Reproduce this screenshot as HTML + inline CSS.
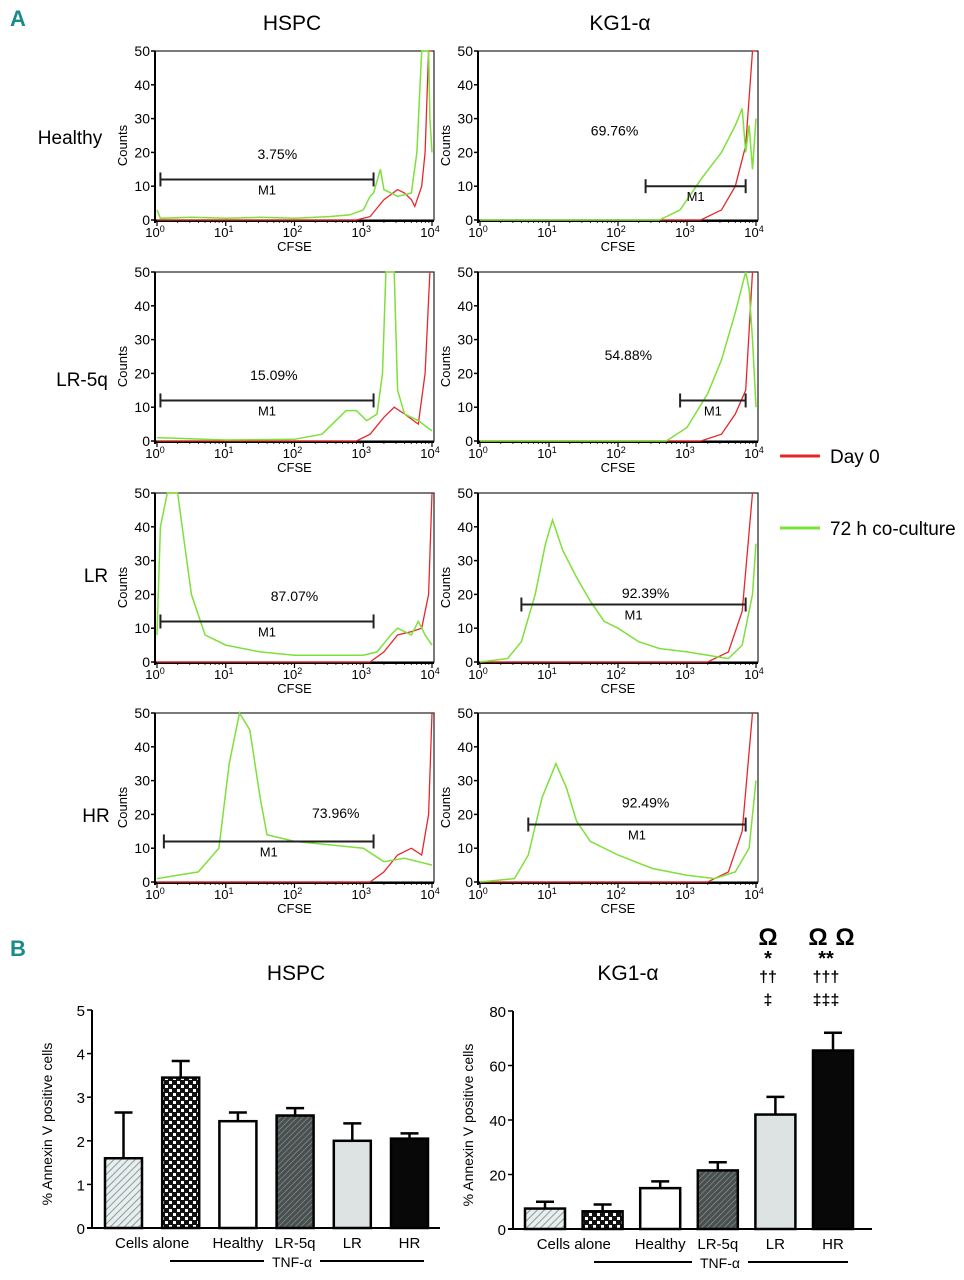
<!DOCTYPE html>
<html><head><meta charset="utf-8">
<style>
html,body{margin:0;padding:0;background:#fff;}
svg{display:block;font-family:"Liberation Sans Narrow","Liberation Sans",sans-serif;}
</style></head>
<body>
<svg id="fig" width="964" height="1280" viewBox="0 0 964 1280" xmlns="http://www.w3.org/2000/svg">
<defs>
<pattern id="hatchLight" width="5" height="5" patternUnits="userSpaceOnUse" patternTransform="rotate(45)"><rect width="5" height="5" fill="#e8eeee"/><line x1="0" y1="0" x2="0" y2="5" stroke="#8a9a9a" stroke-width="2"/></pattern>
<pattern id="hatchDark" width="4" height="4" patternUnits="userSpaceOnUse" patternTransform="rotate(45)"><rect width="4" height="4" fill="#4a5050"/><line x1="0" y1="0" x2="0" y2="4" stroke="#9aa" stroke-width="1"/></pattern>
<pattern id="checker" width="8" height="8" patternUnits="userSpaceOnUse"><rect width="8" height="8" fill="#111"/><rect x="1" y="1" width="3" height="3" fill="#fff"/><rect x="5" y="5" width="3" height="3" fill="#fff"/></pattern>
</defs>
<text x="10" y="26" font-size="22" font-weight="bold" fill="#1a8a8a">A</text>
<text x="10" y="956" font-size="22" font-weight="bold" fill="#1a8a8a">B</text>
<text x="292" y="30" font-size="21" text-anchor="middle">HSPC</text>
<text x="620" y="30" font-size="21" text-anchor="middle">KG1-α</text>
<text x="70" y="144" font-size="19" text-anchor="middle">Healthy</text>
<text x="82" y="386" font-size="19" text-anchor="middle">LR-5q</text>
<text x="96" y="582" font-size="19" text-anchor="middle">LR</text>
<text x="96" y="822" font-size="19" text-anchor="middle">HR</text>
<line x1="780" y1="456" x2="820" y2="456" stroke="#e8262a" stroke-width="3"/>
<text x="830" y="463" font-size="19">Day 0</text>
<line x1="780" y1="528" x2="820" y2="528" stroke="#7ee03a" stroke-width="3"/>
<text x="830" y="535" font-size="19">72 h co-culture</text>
<g id="hist"></g>
<g id="bars"></g>
</svg>
<script>
const NS="http://www.w3.org/2000/svg";
const yTicks=[0,10,20,30,40,50];
const xDecades=[0,1,2,3,4];
// histogram curves: [log10 CFSE, counts]
const hspcHealthyGreen=[[0,3],[0.05,0.5],[0.5,0.8],[1,0.5],[1.5,0.8],[2,0.5],[2.5,1],[2.8,1.5],[3,3],[3.1,7],[3.15,8],[3.25,15],[3.3,9],[3.5,7],[3.7,8],[3.78,20],[3.85,50],[3.95,50],[3.97,30],[4,20]];
const hspcHealthyRed=[[0,0],[2.9,0],[3.1,1],[3.3,6],[3.5,9],[3.6,8],[3.7,6],[3.75,4],[3.85,10],[3.9,20],[3.95,50],[4,50]];
const hspcLr5qGreen=[[0,1],[1,0.3],[2,0.5],[2.4,2],[2.6,6],[2.75,9],[2.9,9],[3.05,6],[3.2,8],[3.28,20],[3.33,50],[3.45,50],[3.5,15],[3.6,8],[3.8,6],[4,3]];
const hspcLr5qRed=[[0,0],[2.9,0],[3.1,2],[3.3,7],[3.45,10],[3.6,8],[3.8,5],[3.9,20],[3.97,50]];
const hspcLrGreen=[[0,8],[0.05,40],[0.15,50],[0.3,50],[0.4,35],[0.5,20],[0.7,8],[1,5],[1.5,3],[2,2],[2.5,2],[3,2],[3.2,3],[3.4,8],[3.5,10],[3.7,8],[3.8,12],[3.9,8],[4,5]];
const hspcLrRed=[[0,0],[3.1,0],[3.3,3],[3.5,8],[3.7,9],[3.85,10],[3.95,20],[4,50]];
const hspcHrGreen=[[0,1],[0.3,2],[0.6,3],[0.9,10],[1.05,35],[1.2,50],[1.35,45],[1.5,25],[1.6,14],[2,12],[2.5,11],[3,10],[3.3,6],[3.6,7],[3.8,6],[4,5]];
const hspcHrRed=[[0,0],[3.1,0],[3.3,3],[3.5,8],[3.7,10],[3.85,8],[3.95,20],[4,50]];
const kgHealthyGreen=[[0,0],[2.6,0],[2.9,3],[3.2,12],[3.5,20],[3.7,28],[3.8,33],[3.85,20],[3.9,28],[3.95,15],[4,30]];
const kgHealthyRed=[[0,0],[3.2,0],[3.5,3],[3.7,10],[3.85,22],[3.95,50],[4,50]];
const kgLr5qGreen=[[0,0],[2.7,0],[3,4],[3.3,14],[3.5,24],[3.7,38],[3.85,50],[3.9,45],[3.95,30],[4,10]];
const kgLr5qRed=[[0,0],[3.2,0],[3.5,2],[3.7,8],[3.85,15],[3.95,50]];
const kgLrGreen=[[0,0],[0.4,1],[0.6,6],[0.8,20],[0.95,35],[1.05,42],[1.2,33],[1.4,25],[1.6,18],[1.8,12],[2,10],[2.3,6],[2.6,4],[3,3],[3.3,2],[3.6,1],[3.8,5],[3.95,20],[4,35]];
const kgLrRed=[[0,0],[3.3,0],[3.6,3],[3.8,15],[3.95,50]];
const kgHrGreen=[[0,0],[0.5,1],[0.7,8],[0.9,25],[1.1,35],[1.25,28],[1.4,18],[1.6,12],[2,8],[2.5,4],[3,2],[3.4,1],[3.7,3],[3.9,10],[4,30]];
const kgHrRed=[[0,0],[3.3,0],[3.6,3],[3.8,15],[3.95,50]];
// gates: [start, end, level], percent labels
const gateStarts=[0.05,2.4,0.05,2.9,0.05,0.6,0.1,0.7];
const gateEnds=[3.15,3.85,3.15,3.85,3.15,3.85,3.15,3.85];
const gateLevels=[12,10,12,12,12,17,12,17];
const gatePercents=["3.75%","69.76%","15.09%","54.88%","87.07%","92.39%","73.96%","92.49%"];
const pctX=[1.75,1.95,1.7,2.15,2.0,2.4,2.6,2.4];
const pctY=[18,25,18,24,18,19,19,22];
const greens=[hspcHealthyGreen,kgHealthyGreen,hspcLr5qGreen,kgLr5qGreen,hspcLrGreen,kgLrGreen,hspcHrGreen,kgHrGreen];
const reds=[hspcHealthyRed,kgHealthyRed,hspcLr5qRed,kgLr5qRed,hspcLrRed,kgLrRed,hspcHrRed,kgHrRed];
const names=["hspc-healthy","kg1-healthy","hspc-lr5q","kg1-lr5q","hspc-lr","kg1-lr","hspc-hr","kg1-hr"];

// bar charts
const barCats=["Cells alone","Cells alone TNF","Healthy","LR-5q","LR","HR"];
const hspcVals=[1.6,3.45,2.45,2.58,2.0,2.05];
const hspcErr=[2.65,3.83,2.65,2.75,2.4,2.17];
const kgVals=[7.5,6.5,15,21.5,42,65.5];
const kgErr=[10,9,17.5,24.5,48.5,72];
const hspcTicks=[0,1,2,3,4,5];
const kgTicks=[0,20,40,60,80];

function el(tag,attrs,parent,text){const e=document.createElementNS(NS,tag);for(const k in attrs)e.setAttribute(k,attrs[k]);if(text!==undefined)e.textContent=text;parent.appendChild(e);return e;}

const hist=document.getElementById('hist');
const colX=[157,480], colW=[275,276];
const rowTop=[51,272,493,713], rowH=169;
for(let i=0;i<8;i++){
  const c=i%2,r=Math.floor(i/2);
  const x0=colX[c],w=colW[c],top=rowTop[r],bot=top+rowH;
  const sx=v=>x0+v/4*w, sy=v=>bot-Math.min(v,50)/50*rowH;
  const g=el('g',{},hist);
  
  
  el('rect',{x:x0-2,y:top,width:w+4,height:rowH,fill:'none',stroke:'#222','stroke-width':1.2},g);
  el('line',{x1:x0-2,y1:top,x2:x0-2,y2:bot+3,stroke:'#000','stroke-width':2},g);
  el('line',{x1:x0-2,y1:bot+1,x2:x0+w+2,y2:bot+1,stroke:'#000','stroke-width':2},g);
  yTicks.forEach(t=>{
    el('line',{x1:x0-6,y1:sy(t),x2:x0-2,y2:sy(t),stroke:'#000','stroke-width':1.5},g);
    const tl=el('text',{x:x0-7,y:sy(t)+5,'font-size':14,'text-anchor':'end'},g,String(t));
    
    
  });
  const yl=el('text',{transform:`translate(${x0-30},${(top+bot)/2+10}) rotate(-90)`,'font-size':13,'text-anchor':'middle'},g,'Counts');
  
  
  xDecades.forEach(d=>{
    el('line',{x1:sx(d),y1:bot+1,x2:sx(d),y2:bot+6,stroke:'#000','stroke-width':1.2},g);
    const tl=el('text',{x:sx(d)-2,y:bot+17,'font-size':13,'text-anchor':'middle'},g,'10');
    el('tspan',{dy:-5,'font-size':9},tl,String(d));
    
    
    if(d<4)for(let m=2;m<10;m++){const lx=sx(d+Math.log10(m));el('line',{x1:lx,y1:bot+1,x2:lx,y2:bot+3,stroke:'#000','stroke-width':0.8},g);}
  });
  const xl=el('text',{x:x0+w/2,y:bot+31,'font-size':13,'text-anchor':'middle'},g,'CFSE');
  
  
  const pts=a=>a.map(p=>sx(p[0]).toFixed(1)+','+sy(p[1]).toFixed(1)).join(' ');
  const rl=el('polyline',{points:pts(reds[i]),fill:'none',stroke:'#e8262a','stroke-width':1.3},g);
  
  
  const gl=el('polyline',{points:pts(greens[i]),fill:'none',stroke:'#7ee03a','stroke-width':1.5},g);
  
  
  const gx1=sx(gateStarts[i]),gx2=sx(gateEnds[i]),gy=sy(gateLevels[i]);
  const gate=el('g',{},g);
  
  
  el('line',{x1:gx1,y1:gy,x2:gx2,y2:gy,stroke:'#222','stroke-width':2},gate);
  el('line',{x1:gx1,y1:gy-7,x2:gx1,y2:gy+7,stroke:'#222','stroke-width':2},gate);
  el('line',{x1:gx2,y1:gy-7,x2:gx2,y2:gy+7,stroke:'#222','stroke-width':2},gate);
  el('text',{x:(gx1+gx2)/2,y:gy+15,'font-size':13,'text-anchor':'middle'},gate,'M1');
  const pt=el('text',{x:sx(pctX[i]),y:sy(pctY[i]),'font-size':14,'text-anchor':'middle'},g,gatePercents[i]);
  
  
}

const bars=document.getElementById('bars');
const fills=['url(#hatchLight)','url(#checker)','#fff','url(#hatchDark)','#dde3e3','#080808'];
function barChart(o){
  const g=el('g',{},bars);
  
  
  const sy=v=>o.y0-v/o.max*(o.y0-o.yTop);
  el('line',{x1:o.ax,y1:sy(o.max),x2:o.ax,y2:o.y0,stroke:'#000','stroke-width':2},g);
  el('line',{x1:o.ax-5,y1:o.y0,x2:o.axEnd,y2:o.y0,stroke:'#000','stroke-width':2},g);
  o.ticks.forEach(t=>{
    el('line',{x1:o.ax-5,y1:sy(t),x2:o.ax,y2:sy(t),stroke:'#000','stroke-width':1.5},g);
    const tl=el('text',{x:o.ax-7,y:sy(t)+6,'font-size':15,'text-anchor':'end'},g,String(t));
    
    
  });
  const yl=el('text',{transform:`translate(${o.ax-40},${(o.y0+sy(o.max))/2+5}) rotate(-90)`,'font-size':14,'text-anchor':'middle'},g,'% Annexin V positive cells');
  
  
  o.vals.forEach((v,k)=>{
    const x=o.bx0+k*o.step, cx=x+o.bw/2;
    const eb=el('g',{},g);
    
    
    el('line',{x1:cx,y1:sy(o.err[k]),x2:cx,y2:sy(v),stroke:'#000','stroke-width':2.5},eb);
    el('line',{x1:cx-9,y1:sy(o.err[k]),x2:cx+9,y2:sy(o.err[k]),stroke:'#000','stroke-width':2.5},eb);
    const b=el('rect',{x:x,y:sy(v),width:o.bw,height:o.y0-sy(v),fill:fills[k],stroke:'#000','stroke-width':2.5},g);
    
    
  });
  const labs=[['Cells alone',(o.bx0+o.bx0+o.step+o.bw)/2],['Healthy',o.bx0+2*o.step+o.bw/2],['LR-5q',o.bx0+3*o.step+o.bw/2],['LR',o.bx0+4*o.step+o.bw/2],['HR',o.bx0+5*o.step+o.bw/2]];
  labs.forEach(l=>{const t=el('text',{x:l[1],y:o.y0+20,'font-size':15,'text-anchor':'middle'},g,l[0]);
    
    });
  const tx=o.tnfX;
  el('line',{x1:o.tnf1,y1:o.y0+33,x2:tx-28,y2:o.y0+33,stroke:'#000','stroke-width':2},g);
  el('line',{x1:tx+28,y1:o.y0+33,x2:o.tnf2,y2:o.y0+33,stroke:'#000','stroke-width':2},g);
  const tt=el('text',{x:tx,y:o.y0+39,'font-size':14,'text-anchor':'middle'},g,'TNF-α');
  
  
  const ti=el('text',{x:o.titleX,y:o.titleY,'font-size':21,'text-anchor':'middle'},g,o.title);
  
  
}
barChart({name:'hspc-annexin-chart',title:'HSPC',titleX:296,titleY:980,ax:92,axEnd:440,y0:1228,yTop:1010,max:5,ticks:hspcTicks,vals:hspcVals,err:hspcErr,bx0:105,step:57.2,bw:37,tnf1:170,tnf2:424,tnfX:292});
barChart({name:'kg1-annexin-chart',title:'KG1-α',titleX:628,titleY:980,ax:513,axEnd:872,y0:1229,yTop:1011,max:80,ticks:kgTicks,vals:kgVals,err:kgErr,bx0:525,step:57.6,bw:40,tnf1:594,tnf2:848,tnfX:720});
const ann=el('g',{'font-weight':'bold','text-anchor':'middle'},bars);


el('text',{x:768,y:945,'font-size':24},ann,'Ω');
el('text',{x:818,y:945,'font-size':24},ann,'Ω');
el('text',{x:845,y:945,'font-size':24},ann,'Ω');
el('text',{x:768,y:965,'font-size':20},ann,'*');
el('text',{x:826,y:965,'font-size':20},ann,'**');
el('text',{x:768,y:982,'font-size':16},ann,'††');
el('text',{x:826,y:982,'font-size':16},ann,'†††');
el('text',{x:768,y:1005,'font-size':16},ann,'‡');
el('text',{x:826,y:1005,'font-size':16},ann,'‡‡‡');
</script>
</body></html>
